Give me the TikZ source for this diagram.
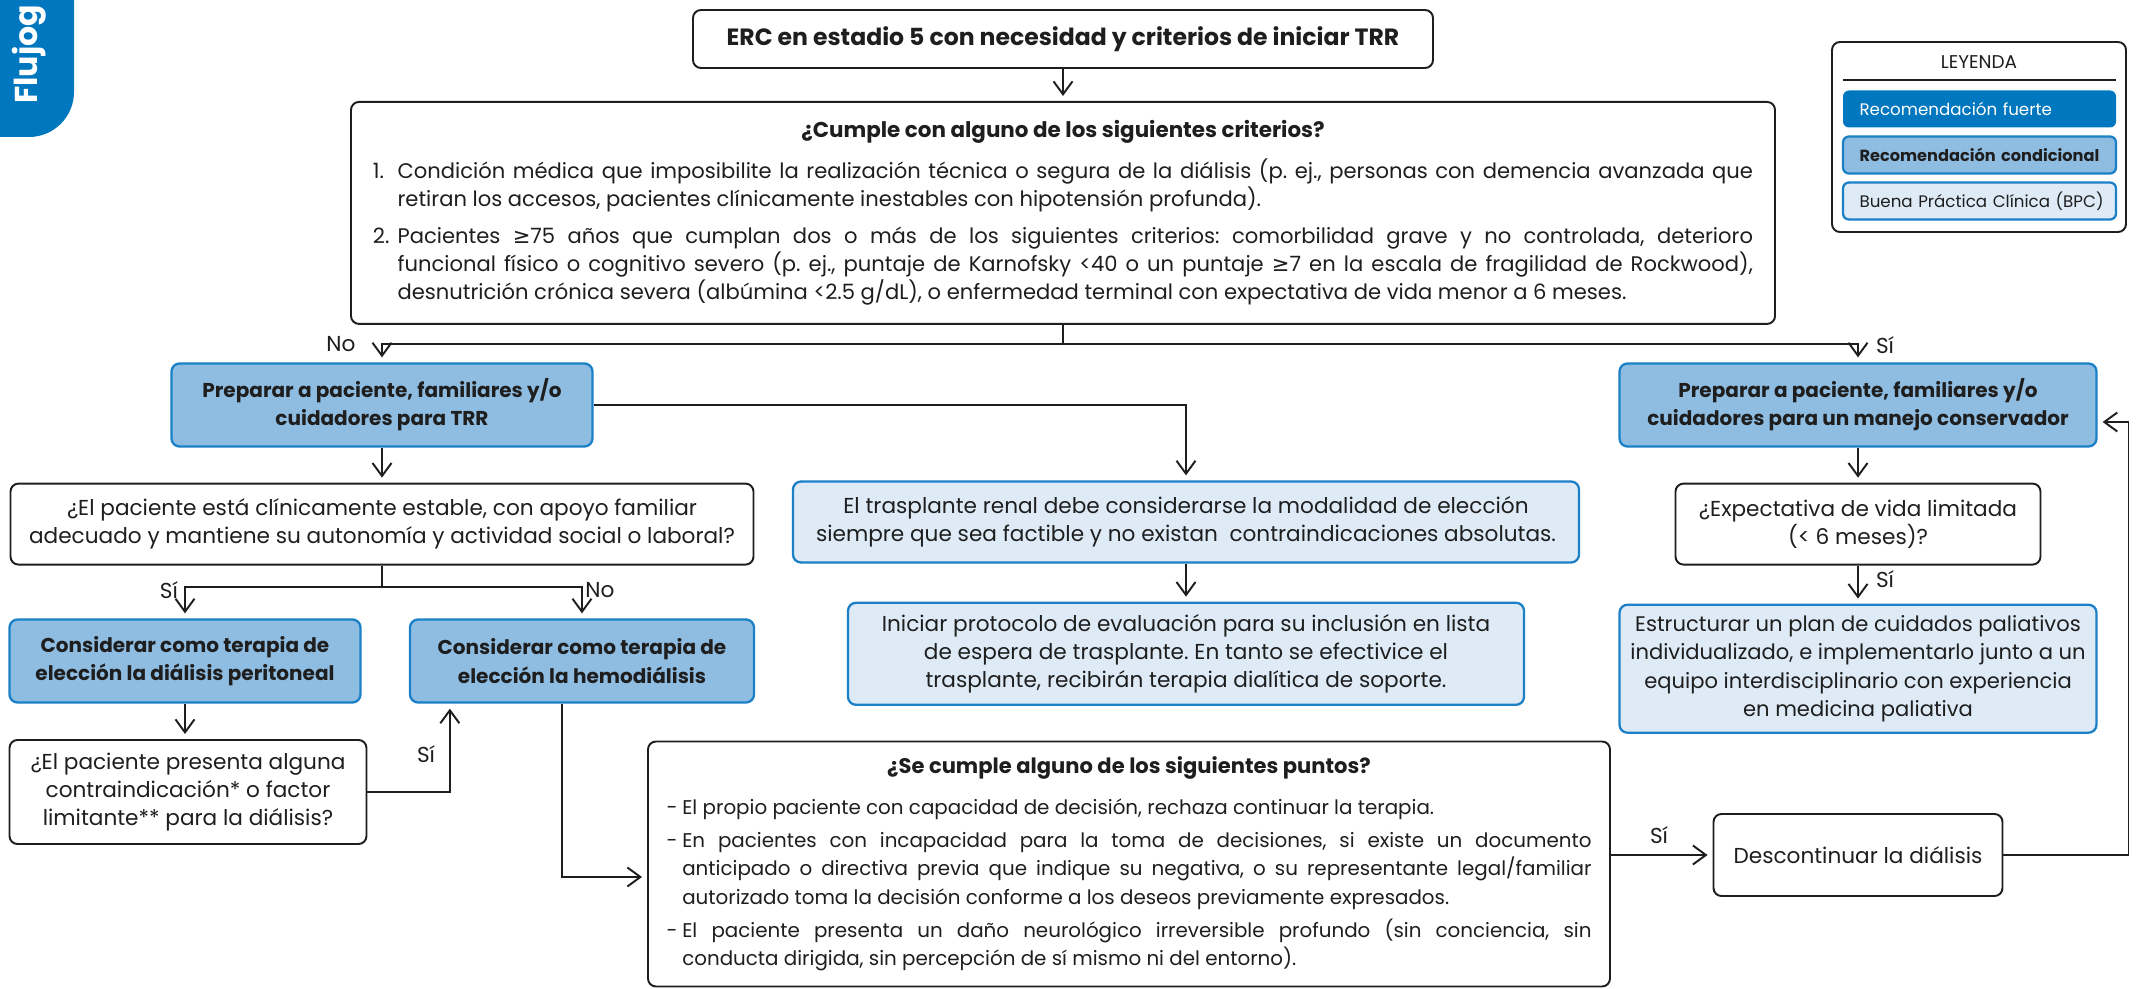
\documentclass[tikz,border=0pt]{standalone}
\usepackage{fontspec}
\setmainfont{Poppins}
\newfontfamily\symfont{DejaVu Sans}
\usetikzlibrary{arrows.meta, positioning}
\frenchspacing

\definecolor{azulFuerte}{RGB}{0,119,190}
\definecolor{azulBorde}{RGB}{27,128,198}
\definecolor{azulCond}{RGB}{143,189,226}
\definecolor{azulBPC}{RGB}{222,235,247}
\definecolor{tinta}{RGB}{30,30,30}
\newcommand{\mayoroigual}{{\symfont\char"2265}}

\begin{document}
\begin{tikzpicture}[x=0.2mm, y=-0.2mm, font=\fontsize{12.3}{16}\selectfont, text=tinta]
		\tikzstyle{Pregunta} = [rectangle, rounded corners=1.6mm, draw=tinta, line width=1.1pt, fill=white, align=center, inner sep=0pt]
		\tikzstyle{Condicional} = [rectangle, rounded corners=1.6mm, draw=azulBorde, line width=1.3pt, fill=azulCond, align=center, inner sep=0pt, font=\fontsize{11.4}{16}\selectfont\bfseries]
		\tikzstyle{BPC} = [rectangle, rounded corners=1.6mm, draw=azulBorde, line width=1.3pt, fill=azulBPC, align=center, inner sep=0pt]
		\tikzstyle{Leyenda} = [rectangle, rounded corners=1.2mm, minimum width=54.6mm, minimum height=7.4mm, text width=48mm, align=left, inner sep=0pt, font=\fontsize{9.5}{12}\selectfont]
		\tikzstyle{Etiqueta} = [inner sep=0pt]
		\tikzstyle{arrow} = [line width=1.1pt, draw=tinta, shorten >=1mm, -{Straight Barb[length=2.6mm, width=3.8mm]}]
		
		\useasboundingbox (0,0) rectangle (2140,989);
		\fill[azulFuerte, rounded corners=9mm] (-60,-60) rectangle (74,137);
		\node (pestana) [rotate=90, anchor=west, inner sep=0pt, text=white, font=\fontsize{18}{18}\selectfont\bfseries] at (29,104) {Flujog};
		
		% tronco central
		\node (ercInicio) [Pregunta, minimum width=148mm, minimum height=11.6mm, font=\fontsize{13.4}{16}\selectfont\bfseries] at (1063,39) {ERC en estadio 5 con necesidad y criterios de iniciar TRR};
		\node (criterios) [Pregunta, below=6.4mm of ercInicio, minimum width=284.8mm, minimum height=44.4mm, text width=276mm, align=justify, font=\fontsize{12}{16}\selectfont] {%
			{\centering\fontsize{12.2}{16}\selectfont\bfseries ¿Cumple con alguno de los siguientes criterios?\par}\vspace{7pt}
			\hangindent=14pt\hangafter=1\noindent\makebox[14pt][l]{1.}Condición médica que imposibilite la realización técnica o segura de la diálisis (p. ej., personas con demencia avanzada que\linebreak retiran los accesos, pacientes clínicamente inestables con hipotensión profunda).\par\vspace{5pt}
			\hangindent=14pt\hangafter=1\noindent\makebox[14pt][l]{2.}Pacientes \mayoroigual75 años que cumplan dos o más de los siguientes criterios: comorbilidad grave y no controlada, deterioro\linebreak funcional físico o cognitivo severo (p. ej., puntaje de Karnofsky <40 o un puntaje \mayoroigual7 en la escala de fragilidad de Rockwood),\linebreak desnutrición crónica severa (albúmina <2.5 g/dL), o enfermedad terminal con expectativa de vida menor a 6 meses.\par};
		
		% rama TRR
		\node (prepTrr) [Condicional, minimum width=84.2mm, minimum height=16.6mm] at (382,405) {Preparar a paciente, familiares y/o\\cuidadores para TRR};
		\node (estable) [Pregunta, below=7mm of prepTrr, minimum width=148.6mm, minimum height=16.2mm] {¿El paciente está clínicamente estable, con apoyo familiar\\adecuado y mantiene su autonomía y actividad social o laboral?};
		\node (peritoneal) [Condicional, minimum width=70.2mm, minimum height=16.6mm] at (185,661) {Considerar como terapia de\\elección la diálisis peritoneal};
		\node (hemo) [Condicional, minimum width=68.8mm, minimum height=16.6mm] at (582,661) {Considerar como terapia de\\elección la hemodiálisis};
		\node (contraInd) [Pregunta, minimum width=71.4mm, minimum height=20.8mm] at (188,792) {¿El paciente presenta alguna\\contraindicación* o factor\\limitante** para la diálisis?};
		\node (trasplante) [BPC, minimum width=157.2mm, minimum height=16.2mm] at (1186,522) {El trasplante renal debe considerarse la modalidad de elección\\siempre que sea factible y no existan\ \ contraindicaciones absolutas.};
		\node (protocolo) [BPC, below=7.6mm of trasplante, minimum width=135.2mm, minimum height=20.4mm] {Iniciar protocolo de evaluación para su inclusión en lista\\de espera de trasplante. En tanto se efectivice el\\trasplante, recibirán terapia dialítica de soporte.};
		\node (puntos) [Pregunta, minimum width=192.4mm, minimum height=49mm, text width=185mm, align=justify, font=\fontsize{11.3}{16}\selectfont] at (1129,864) {%
			{\centering\fontsize{12}{16}\selectfont\bfseries ¿Se cumple alguno de los siguientes puntos?\par}\vspace{7pt}
			\hangindent=9pt\hangafter=1\noindent\makebox[9pt][l]{-}El propio paciente con capacidad de decisión, rechaza continuar la terapia.\par\vspace{3pt}
			\hangindent=9pt\hangafter=1\noindent\makebox[9pt][l]{-}En pacientes con incapacidad para la toma de decisiones, si existe un documento\linebreak anticipado o directiva previa que indique su negativa, o su representante legal/familiar\linebreak autorizado toma la decisión conforme a los deseos previamente expresados.\par\vspace{3pt}
			\hangindent=9pt\hangafter=1\noindent\makebox[9pt][l]{-}El paciente presenta un daño neurológico irreversible profundo (sin conciencia, sin\linebreak conducta dirigida, sin percepción de sí mismo ni del entorno).\par};
		\node (descontinuar) [Pregunta, minimum width=57.8mm, minimum height=16.4mm] at (1858,855) {Descontinuar la diálisis};
		
		% rama conservadora
		\node (prepConservador) [Condicional, minimum width=95.4mm, minimum height=16.6mm] at (1858,405) {Preparar a paciente, familiares y/o\\cuidadores para un manejo conservador};
		\node (expectativa) [Pregunta, below=7mm of prepConservador, minimum width=73mm, minimum height=16.2mm] {¿Expectativa de vida limitada\\(< 6 meses)?};
		\node (paliativo) [BPC, below=7.6mm of expectativa, minimum width=95.4mm, minimum height=25.6mm, font=\fontsize{12}{16}\selectfont] {Estructurar un plan de cuidados paliativos\\individualizado, e implementarlo junto a un\\equipo interdisciplinario con experiencia\\en medicina paliativa};
		
		% leyenda
		\node (leyenda) [Pregunta, minimum width=58.8mm, minimum height=38mm] at (1979,137) {};
		\node (leyTitulo) [Etiqueta, font=\fontsize{10.5}{12}\selectfont] at (1979,62) {LEYENDA};
		\draw[line width=1pt, draw=tinta] (1843,80) -- (2116,80);
		\node (leyFuerte) [Leyenda, fill=azulFuerte, text=white] at (1979.5,109) {\mbox{Recomendación fuerte}};
		\node (leyCond) [Leyenda, draw=azulBorde, line width=1.3pt, fill=azulCond, font=\fontsize{9.2}{12}\selectfont\bfseries] at (1979.5,155) {\mbox{Recomendación condicional}};
		\node (leyBpc) [Leyenda, draw=azulBorde, line width=1.3pt, fill=azulBPC] at (1979.5,201) {\mbox{Buena Práctica Clínica (BPC)}};
		
		% etiquetas
		\node (noCrit) [Etiqueta] at (341,344) {No};
		\node (siCrit) [Etiqueta] at (1885,345) {Sí};
		\node (siEstable) [Etiqueta] at (169,590) {Sí};
		\node (noEstable) [Etiqueta] at (600,590) {No};
		\node (siContra) [Etiqueta] at (426,754) {Sí};
		\node (siExpect) [Etiqueta] at (1885,579) {Sí};
		\node (siPuntos) [Etiqueta] at (1659,835) {Sí};
		
		\draw[arrow] (ercInicio) -- (criterios);
		\draw[arrow] (criterios.south) -- ++(0,19) -| (prepTrr.north);
		\draw[arrow] (criterios.south) -- ++(0,19) -| (prepConservador.north);
		\draw[arrow] (prepTrr) -- (estable);
		\draw[arrow] (prepTrr.east) -| (trasplante.north);
		\draw[arrow] (trasplante) -- (protocolo);
		\draw[arrow] (estable.south) -- ++(0,21) -| (peritoneal.north);
		\draw[arrow] (estable.south) -- ++(0,21) -| (hemo.north);
		\draw[arrow] (peritoneal.south) -- (peritoneal.south |- contraInd.north);
		\draw[arrow] (contraInd.east) -| ([xshift=8.2mm]hemo.south west);
		\draw[arrow] ([xshift=-4mm]hemo.south) |- ([yshift=-2.6mm]puntos.west);
		\draw[arrow] (puntos.east |- descontinuar.west) -- (descontinuar.west);
		\draw[arrow] (descontinuar.east) -- ++(125,0) |- ([yshift=-3.4mm]prepConservador.east);
		\draw[arrow] (prepConservador) -- (expectativa);
		\draw[arrow] (expectativa) -- (paliativo);
\end{tikzpicture}
\end{document}
